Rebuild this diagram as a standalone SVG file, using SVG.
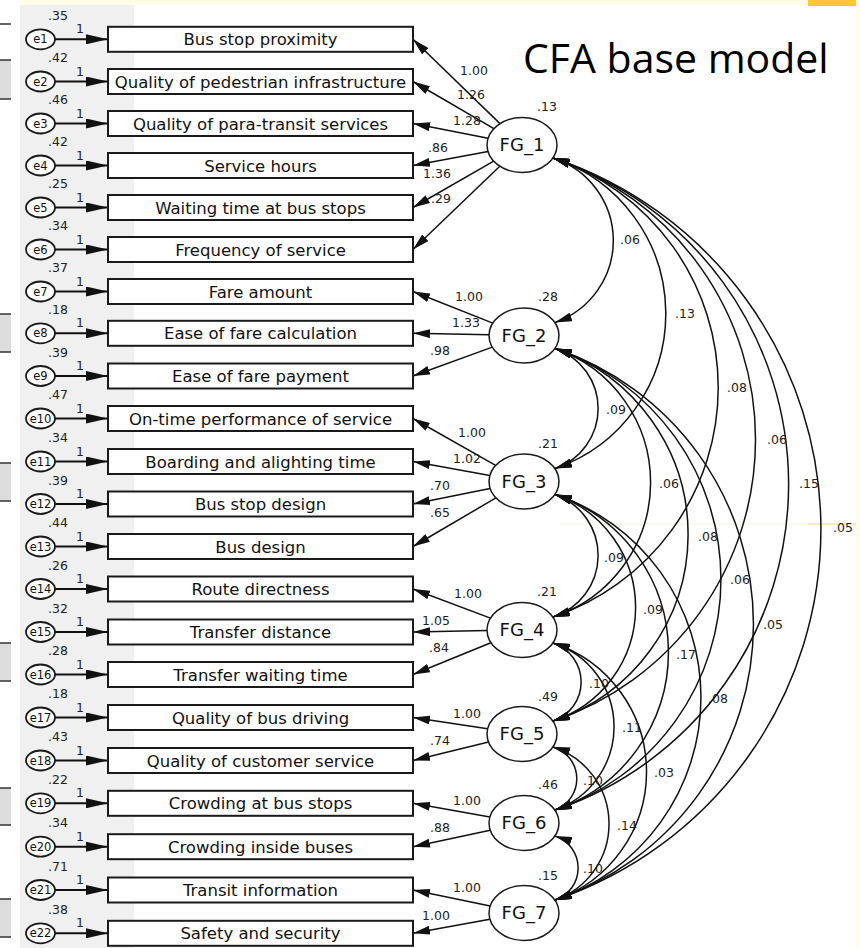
<svg xmlns="http://www.w3.org/2000/svg" width="860" height="948" viewBox="0 0 860 948">
<style>
.box{fill:#fff;stroke:#1a1a1a;stroke-width:2}
.err{fill:#fff;stroke:#1a1a1a;stroke-width:1.8}
.lat{fill:#fff;stroke:#1a1a1a;stroke-width:1.5}
.ln{fill:none;stroke:#111;stroke-width:1.5}
.ea{fill:none;stroke:#111;stroke-width:2;marker-end:url(#ae)}
.ld{fill:none;stroke:#111;stroke-width:1.5;marker-end:url(#a)}
.cv{fill:none;stroke:#111;stroke-width:1.5;marker-start:url(#a);marker-end:url(#a)}
text{font-family:"DejaVu Sans",sans-serif;fill:#222}
.t{font-size:16.5px;fill:#111;text-anchor:middle}
.n{font-size:12.5px}
.e{font-size:11.5px;fill:#111;text-anchor:middle}
.lt{font-size:18px;fill:#111;text-anchor:middle}
.ttl{font-family:"Open Sans","Liberation Sans",sans-serif;font-size:41px;fill:#000}
.frag{fill:#dcdcdc}
.fl{stroke:#333;stroke-width:1.5}
</style>
<defs>
<marker id="a" viewBox="0 0 17 9" markerWidth="17" markerHeight="9" refX="17" refY="4.5" orient="auto-start-reverse" markerUnits="userSpaceOnUse"><path d="M0,0L17,4.5L0,9z" fill="#111"/></marker>
<marker id="ae" viewBox="0 0 22 10" markerWidth="22" markerHeight="10" refX="22" refY="5" orient="auto" markerUnits="userSpaceOnUse"><path d="M0,0L22,5L0,10z" fill="#111"/></marker>
</defs>
<rect x="0" y="0" width="860" height="948" fill="#fff"/>
<g id="background">
<rect x="20" y="5" width="114" height="943" fill="#f0f0f0"/>
<rect x="20" y="0" width="788" height="5" fill="#fffbe6"/>
<rect x="808" y="0" width="48" height="6" fill="#f9c63c"/>
<rect x="856" y="0" width="4" height="948" fill="#fffbe8"/>
<line x1="560" y1="524" x2="808" y2="524" stroke="#f6f1dc" stroke-width="1"/>
<line x1="808" y1="524" x2="856" y2="524" stroke="#f2d779" stroke-width="1"/>
<line x1="0" y1="24" x2="11" y2="24" class="fl"/>
<rect x="0" y="60" width="11" height="39" class="frag"/><line x1="0" y1="60" x2="11" y2="60" class="fl"/><line x1="0" y1="99" x2="11" y2="99" class="fl"/>
<rect x="0" y="314" width="11" height="38" class="frag"/><line x1="0" y1="314" x2="11" y2="314" class="fl"/><line x1="0" y1="352" x2="11" y2="352" class="fl"/>
<rect x="0" y="463" width="11" height="38" class="frag"/><line x1="0" y1="463" x2="11" y2="463" class="fl"/><line x1="0" y1="501" x2="11" y2="501" class="fl"/>
<rect x="0" y="643" width="11" height="38" class="frag"/><line x1="0" y1="643" x2="11" y2="643" class="fl"/><line x1="0" y1="681" x2="11" y2="681" class="fl"/>
<rect x="0" y="788" width="11" height="37" class="frag"/><line x1="0" y1="788" x2="11" y2="788" class="fl"/><line x1="0" y1="825" x2="11" y2="825" class="fl"/>
<rect x="0" y="899" width="11" height="38" class="frag"/><line x1="0" y1="899" x2="11" y2="899" class="fl"/><line x1="0" y1="937" x2="11" y2="937" class="fl"/>
</g>
<text class="ttl" x="523" y="73">CFA base model</text>

<g id="connectors">
<!-- error arrows -->
<path class="ea" d="M55,39.3H108"/><path class="ea" d="M55,81.5H108"/><path class="ea" d="M55,123.5H108"/><path class="ea" d="M55,165.5H108"/>
<path class="ea" d="M55,207.5H108"/><path class="ea" d="M55,249.5H108"/><path class="ea" d="M55,291.5H108"/><path class="ea" d="M55,333.3H108"/>
<path class="ea" d="M55,376H108"/><path class="ea" d="M55,418.5H108"/><path class="ea" d="M55,461.5H108"/><path class="ea" d="M55,504H108"/>
<path class="ea" d="M55,546.5H108"/><path class="ea" d="M55,589H108"/><path class="ea" d="M55,632H108"/><path class="ea" d="M55,674.5H108"/>
<path class="ea" d="M55,717.5H108"/><path class="ea" d="M55,760.5H108"/><path class="ea" d="M55,803.3H108"/><path class="ea" d="M55,846.7H108"/>
<path class="ea" d="M55,890H108"/><path class="ea" d="M55,933.3H108"/>
<g class="n">
<text x="76" y="33.3">1</text><text x="76" y="75.5">1</text><text x="76" y="117.5">1</text><text x="76" y="159.5">1</text>
<text x="76" y="201.5">1</text><text x="76" y="243.5">1</text><text x="76" y="285.5">1</text><text x="76" y="327.3">1</text>
<text x="76" y="370">1</text><text x="76" y="412.5">1</text><text x="76" y="455.5">1</text><text x="76" y="498">1</text>
<text x="76" y="540.5">1</text><text x="76" y="583">1</text><text x="76" y="626">1</text><text x="76" y="668.5">1</text>
<text x="76" y="711.5">1</text><text x="76" y="754.5">1</text><text x="76" y="797.3">1</text><text x="76" y="840.7">1</text>
<text x="76" y="884">1</text><text x="76" y="927.3">1</text>
</g>
<!-- loadings -->
<path class="ld" d="M500,123.6L413,39.3"/><path class="ld" d="M493.9,128.6L413,81.5"/><path class="ld" d="M488.1,138.3L413,123.5"/>
<path class="ld" d="M488,151.4L413,165.5"/><path class="ld" d="M493.7,161.2L413,207.5"/><path class="ld" d="M499.8,166.3L413,249.5"/>
<path class="ld" d="M492.8,323.1L413,291.5"/><path class="ld" d="M489,334.8L413,333.3"/><path class="ld" d="M492.3,347.1L413,376"/>
<path class="ld" d="M495.6,465.4L413,418.5"/><path class="ld" d="M489.9,475.4L413,461.5"/><path class="ld" d="M490.1,488.4L413,504"/><path class="ld" d="M495.9,497.9L413,546.5"/>
<path class="ld" d="M490.4,618.1L413,589"/><path class="ld" d="M487,630.6L413,632"/><path class="ld" d="M490.9,642.7L413,674.5"/>
<path class="ld" d="M487.6,728.8L413,717.5"/><path class="ld" d="M488.6,742.1L413,760.5"/>
<path class="ld" d="M489.9,817L413,803.3"/><path class="ld" d="M490.2,830.2L413,846.7"/>
<path class="ld" d="M490.2,906L413,890"/><path class="ld" d="M489.9,919.2L413,933.3"/>
<g class="n">
<text x="460" y="75">1.00</text><text x="457" y="99">1.26</text><text x="453" y="125">1.28</text>
<text x="428" y="152">.86</text><text x="423" y="178">1.36</text><text x="431" y="203">.29</text>
<text x="455" y="300.5">1.00</text><text x="452" y="327">1.33</text><text x="430" y="355">.98</text>
<text x="458" y="436.5">1.00</text><text x="453" y="463">1.02</text><text x="430" y="490">.70</text><text x="430" y="516.7">.65</text>
<text x="454" y="598">1.00</text><text x="422" y="625">1.05</text><text x="429" y="652">.84</text>
<text x="453" y="718">1.00</text><text x="430" y="745">.74</text>
<text x="453" y="805">1.00</text><text x="430" y="831.7">.88</text>
<text x="453" y="892">1.00</text><text x="422" y="920">1.00</text>
</g>
<!-- covariances -->
<path class="cv" d="M553,158A86.7,86.7 0 0 1 555,322.5"/>
<path class="cv" d="M553,158A163.7,163.7 0 0 1 555,468.5"/>
<path class="cv" d="M553,158A242,242 0 0 1 553,617"/>
<path class="cv" d="M553,158A296.9,296.9 0 0 1 553,721"/>
<path class="cv" d="M553,158A343.8,343.8 0 0 1 555,810"/>
<path class="cv" d="M553,158A391.3,391.3 0 0 1 555,900"/>
<path class="cv" d="M555,348.5A63.3,63.3 0 0 1 555,468.5"/>
<path class="cv" d="M555,348.5A141.6,141.6 0 0 1 553,617"/>
<path class="cv" d="M555,348.5A196.4,196.4 0 0 1 553,721"/>
<path class="cv" d="M555,348.5A243.4,243.4 0 0 1 555,810"/>
<path class="cv" d="M555,348.5A290.8,290.8 0 0 1 555,900"/>
<path class="cv" d="M555,494.5A64.6,64.6 0 0 1 553,617"/>
<path class="cv" d="M555,494.5A119.4,119.4 0 0 1 553,721"/>
<path class="cv" d="M555,494.5A166.4,166.4 0 0 1 555,810"/>
<path class="cv" d="M555,494.5A213.8,213.8 0 0 1 555,900"/>
<path class="cv" d="M553,643A41.1,41.1 0 0 1 553,721"/>
<path class="cv" d="M553,643A88.1,88.1 0 0 1 555,810"/>
<path class="cv" d="M553,643A135.5,135.5 0 0 1 555,900"/>
<path class="cv" d="M553,747A33.2,33.2 0 0 1 555,810"/>
<path class="cv" d="M553,747A80.7,80.7 0 0 1 555,900"/>
<path class="cv" d="M555,836A33.7,33.7 0 0 1 555,900"/>
<g class="n">
<text x="620" y="244">.06</text><text x="675" y="318">.13</text><text x="727" y="392">.08</text>
<text x="767" y="444">.06</text><text x="799" y="488">.15</text><text x="833" y="532">.05</text>
<text x="606" y="414">.09</text><text x="659" y="488">.06</text><text x="698" y="541">.08</text>
<text x="730" y="584">.06</text><text x="763" y="629">.05</text>
<text x="604" y="562">.09</text><text x="643" y="614">.09</text><text x="676" y="659">.17</text><text x="708" y="703">.08</text>
<text x="589" y="688">.10</text><text x="622" y="732">.11</text><text x="654" y="777">.03</text>
<text x="583" y="785">.10</text><text x="617" y="830">.14</text><text x="583" y="873">.10</text>
</g>
</g>

<g id="errors">
<g id="e1"><ellipse class="err" cx="40.5" cy="39.3" rx="14.5" ry="10"/><text class="e" x="40.5" y="43.3">e1</text><text class="n" x="48" y="19.8">.35</text></g>
<g id="e2"><ellipse class="err" cx="40.5" cy="81.5" rx="14.5" ry="10"/><text class="e" x="40.5" y="85.5">e2</text><text class="n" x="48" y="62">.42</text></g>
<g id="e3"><ellipse class="err" cx="40.5" cy="123.5" rx="14.5" ry="10"/><text class="e" x="40.5" y="127.5">e3</text><text class="n" x="48" y="104">.46</text></g>
<g id="e4"><ellipse class="err" cx="40.5" cy="165.5" rx="14.5" ry="10"/><text class="e" x="40.5" y="169.5">e4</text><text class="n" x="48" y="146">.42</text></g>
<g id="e5"><ellipse class="err" cx="40.5" cy="207.5" rx="14.5" ry="10"/><text class="e" x="40.5" y="211.5">e5</text><text class="n" x="48" y="188">.25</text></g>
<g id="e6"><ellipse class="err" cx="40.5" cy="249.5" rx="14.5" ry="10"/><text class="e" x="40.5" y="253.5">e6</text><text class="n" x="48" y="230">.34</text></g>
<g id="e7"><ellipse class="err" cx="40.5" cy="291.5" rx="14.5" ry="10"/><text class="e" x="40.5" y="295.5">e7</text><text class="n" x="48" y="272">.37</text></g>
<g id="e8"><ellipse class="err" cx="40.5" cy="333.3" rx="14.5" ry="10"/><text class="e" x="40.5" y="337.3">e8</text><text class="n" x="48" y="313.8">.18</text></g>
<g id="e9"><ellipse class="err" cx="40.5" cy="376" rx="14.5" ry="10"/><text class="e" x="40.5" y="380">e9</text><text class="n" x="48" y="356.5">.39</text></g>
<g id="e10"><ellipse class="err" cx="40.5" cy="418.5" rx="14.5" ry="10"/><text class="e" x="40.5" y="422.5">e10</text><text class="n" x="48" y="399">.47</text></g>
<g id="e11"><ellipse class="err" cx="40.5" cy="461.5" rx="14.5" ry="10"/><text class="e" x="40.5" y="465.5">e11</text><text class="n" x="48" y="442">.34</text></g>
<g id="e12"><ellipse class="err" cx="40.5" cy="504" rx="14.5" ry="10"/><text class="e" x="40.5" y="508">e12</text><text class="n" x="48" y="484.5">.39</text></g>
<g id="e13"><ellipse class="err" cx="40.5" cy="546.5" rx="14.5" ry="10"/><text class="e" x="40.5" y="550.5">e13</text><text class="n" x="48" y="527">.44</text></g>
<g id="e14"><ellipse class="err" cx="40.5" cy="589" rx="14.5" ry="10"/><text class="e" x="40.5" y="593">e14</text><text class="n" x="48" y="569.5">.26</text></g>
<g id="e15"><ellipse class="err" cx="40.5" cy="632" rx="14.5" ry="10"/><text class="e" x="40.5" y="636">e15</text><text class="n" x="48" y="612.5">.32</text></g>
<g id="e16"><ellipse class="err" cx="40.5" cy="674.5" rx="14.5" ry="10"/><text class="e" x="40.5" y="678.5">e16</text><text class="n" x="48" y="655">.28</text></g>
<g id="e17"><ellipse class="err" cx="40.5" cy="717.5" rx="14.5" ry="10"/><text class="e" x="40.5" y="721.5">e17</text><text class="n" x="48" y="698">.18</text></g>
<g id="e18"><ellipse class="err" cx="40.5" cy="760.5" rx="14.5" ry="10"/><text class="e" x="40.5" y="764.5">e18</text><text class="n" x="48" y="741">.43</text></g>
<g id="e19"><ellipse class="err" cx="40.5" cy="803.3" rx="14.5" ry="10"/><text class="e" x="40.5" y="807.3">e19</text><text class="n" x="48" y="783.8">.22</text></g>
<g id="e20"><ellipse class="err" cx="40.5" cy="846.7" rx="14.5" ry="10"/><text class="e" x="40.5" y="850.7">e20</text><text class="n" x="48" y="827.2">.34</text></g>
<g id="e21"><ellipse class="err" cx="40.5" cy="890" rx="14.5" ry="10"/><text class="e" x="40.5" y="894">e21</text><text class="n" x="48" y="870.5">.71</text></g>
<g id="e22"><ellipse class="err" cx="40.5" cy="933.3" rx="14.5" ry="10"/><text class="e" x="40.5" y="937.3">e22</text><text class="n" x="48" y="913.8">.38</text></g>
</g>

<g id="observed">
<g id="v1"><rect class="box" x="108" y="26.8" width="305" height="25"/><text class="t" x="260.5" y="45.3">Bus stop proximity</text></g>
<g id="v2"><rect class="box" x="108" y="69" width="305" height="25"/><text class="t" x="260.5" y="87.5">Quality of pedestrian infrastructure</text></g>
<g id="v3"><rect class="box" x="108" y="111" width="305" height="25"/><text class="t" x="260.5" y="129.5">Quality of para-transit services</text></g>
<g id="v4"><rect class="box" x="108" y="153" width="305" height="25"/><text class="t" x="260.5" y="171.5">Service hours</text></g>
<g id="v5"><rect class="box" x="108" y="195" width="305" height="25"/><text class="t" x="260.5" y="213.5">Waiting time at bus stops</text></g>
<g id="v6"><rect class="box" x="108" y="237" width="305" height="25"/><text class="t" x="260.5" y="255.5">Frequency of service</text></g>
<g id="v7"><rect class="box" x="108" y="279" width="305" height="25"/><text class="t" x="260.5" y="297.5">Fare amount</text></g>
<g id="v8"><rect class="box" x="108" y="320.8" width="305" height="25"/><text class="t" x="260.5" y="339.3">Ease of fare calculation</text></g>
<g id="v9"><rect class="box" x="108" y="363.5" width="305" height="25"/><text class="t" x="260.5" y="382">Ease of fare payment</text></g>
<g id="v10"><rect class="box" x="108" y="406" width="305" height="25"/><text class="t" x="260.5" y="424.5">On-time performance of service</text></g>
<g id="v11"><rect class="box" x="108" y="449" width="305" height="25"/><text class="t" x="260.5" y="467.5">Boarding and alighting time</text></g>
<g id="v12"><rect class="box" x="108" y="491.5" width="305" height="25"/><text class="t" x="260.5" y="510">Bus stop design</text></g>
<g id="v13"><rect class="box" x="108" y="534" width="305" height="25"/><text class="t" x="260.5" y="552.5">Bus design</text></g>
<g id="v14"><rect class="box" x="108" y="576.5" width="305" height="25"/><text class="t" x="260.5" y="595">Route directness</text></g>
<g id="v15"><rect class="box" x="108" y="619.5" width="305" height="25"/><text class="t" x="260.5" y="638">Transfer distance</text></g>
<g id="v16"><rect class="box" x="108" y="662" width="305" height="25"/><text class="t" x="260.5" y="680.5">Transfer waiting time</text></g>
<g id="v17"><rect class="box" x="108" y="705" width="305" height="25"/><text class="t" x="260.5" y="723.5">Quality of bus driving</text></g>
<g id="v18"><rect class="box" x="108" y="748" width="305" height="25"/><text class="t" x="260.5" y="766.5">Quality of customer service</text></g>
<g id="v19"><rect class="box" x="108" y="790.8" width="305" height="25"/><text class="t" x="260.5" y="809.3">Crowding at bus stops</text></g>
<g id="v20"><rect class="box" x="108" y="834.2" width="305" height="25"/><text class="t" x="260.5" y="852.7">Crowding inside buses</text></g>
<g id="v21"><rect class="box" x="108" y="877.5" width="305" height="25"/><text class="t" x="260.5" y="896">Transit information</text></g>
<g id="v22"><rect class="box" x="108" y="920.8" width="305" height="25"/><text class="t" x="260.5" y="939.3">Safety and security</text></g>
</g>

<g id="latents">
<g id="FG_1"><ellipse class="lat" cx="522" cy="145" rx="35" ry="27.5"/><text class="lt" x="522" y="151">FG_1</text><text class="n" x="537" y="111">.13</text></g>
<g id="FG_2"><ellipse class="lat" cx="524" cy="335.5" rx="35" ry="27.5"/><text class="lt" x="524" y="341.5">FG_2</text><text class="n" x="538" y="301">.28</text></g>
<g id="FG_3"><ellipse class="lat" cx="524" cy="481.5" rx="35" ry="27.5"/><text class="lt" x="524" y="487.5">FG_3</text><text class="n" x="538" y="448">.21</text></g>
<g id="FG_4"><ellipse class="lat" cx="522" cy="630" rx="35" ry="27.5"/><text class="lt" x="522" y="636">FG_4</text><text class="n" x="537" y="596">.21</text></g>
<g id="FG_5"><ellipse class="lat" cx="522" cy="734" rx="35" ry="27.5"/><text class="lt" x="522" y="740">FG_5</text><text class="n" x="538" y="700.5">.49</text></g>
<g id="FG_6"><ellipse class="lat" cx="524" cy="823" rx="35" ry="27.5"/><text class="lt" x="524" y="829">FG_6</text><text class="n" x="538" y="789">.46</text></g>
<g id="FG_7"><ellipse class="lat" cx="524" cy="913" rx="35" ry="27.5"/><text class="lt" x="524" y="919">FG_7</text><text class="n" x="538" y="880">.15</text></g>
</g>
</svg>
